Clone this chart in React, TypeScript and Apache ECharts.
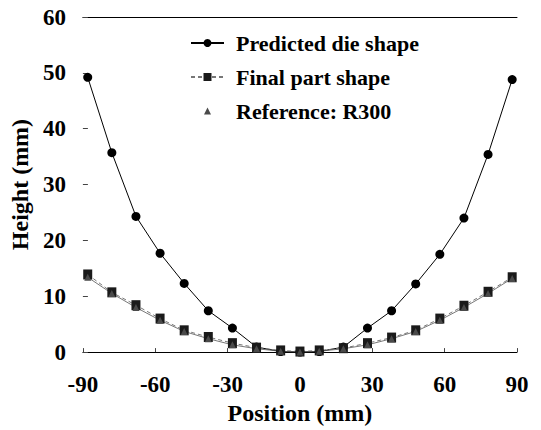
import React, { useEffect, useRef } from "react";
import * as echarts from "echarts";

const positions = [-88, -78, -68, -58, -48, -38, -28, -18, -8, 0, 8, 18, 28, 38, 48, 58, 68, 78, 88];
const predictedDie = [49.2, 35.7, 24.3, 17.7, 12.3, 7.4, 4.3, 0.9, 0.1, 0, 0.1, 0.9, 4.3, 7.4, 12.2, 17.5, 24.0, 35.4, 48.8];
const finalPart = [13.9, 10.7, 8.4, 6.0, 3.9, 2.7, 1.6, 0.8, 0.3, 0.1, 0.3, 0.7, 1.6, 2.6, 3.9, 6.0, 8.3, 10.8, 13.4];
const reference = [13.4, 10.5, 8.0, 5.7, 3.7, 2.4, 1.3, 0.6, 0.15, 0, 0.15, 0.6, 1.3, 2.4, 3.7, 5.7, 8.0, 10.5, 13.2];

const seriesNames = ["Predicted die shape", "Final part shape", "Reference: R300"];
const xAxisName = "Position (mm)";
const yAxisName = "Height (mm)";
const xMin = -90;
const xMax = 90;
const xStep = 30;
const yMin = 0;
const yMax = 60;
const yStep = 10;

const FONT = "'Liberation Serif', 'Times New Roman', serif";

const pairs = (ys: number[]) => positions.map((x, i) => [x, ys[i]]);

export default function App() {
  const ref = useRef<HTMLDivElement>(null);
  useEffect(() => {
    if (!ref.current) return;
    const chart = echarts.init(ref.current, undefined, { renderer: "svg" });
    const base = { fontFamily: FONT, fontWeight: "bold" as const, color: "#000" };
    chart.setOption({
      animation: false,
      backgroundColor: "#fff",
      grid: { left: 77, right: 24, top: 17, bottom: 75, containLabel: false },
      legend: {
        orient: "vertical",
        left: 185,
        top: 27,
        itemWidth: 33,
        itemHeight: 10,
        itemGap: 12,
        textStyle: { ...base, fontSize: 22, padding: [0, 0, 0, 7], lineHeight: 22 },
        data: [
          { name: seriesNames[0] },
          { name: seriesNames[1] },
          { name: seriesNames[2], icon: "path://M0,0M20,20M3,17L10,3L17,17Z" },
        ],
      },
      xAxis: [
        {
          type: "value",
          min: xMin,
          max: xMax,
          interval: xStep,
          name: xAxisName,
          nameLocation: "middle",
          nameGap: 46,
          nameTextStyle: { ...base, fontSize: 24 },
          axisLine: { show: true, onZero: false, lineStyle: { color: "#000", width: 1 } },
          axisTick: { show: true, inside: true, length: 4, lineStyle: { color: "#444" } },
          axisLabel: { ...base, fontSize: 23, margin: 21 },
          splitLine: { show: false },
        },
        {
          type: "value",
          position: "top",
          min: xMin,
          max: xMax,
          axisLine: { show: true, onZero: false, lineStyle: { color: "#000", width: 1 } },
          axisTick: { show: false },
          axisLabel: { show: false },
          splitLine: { show: false },
        },
      ],
      yAxis: {
        type: "value",
        position: "left",
        min: yMin,
        max: yMax,
        interval: yStep,
        name: yAxisName,
        nameLocation: "middle",
        nameGap: 46,
        nameTextStyle: { ...base, fontSize: 24 },
        axisLine: { show: false, onZero: false },
        axisTick: { show: true, inside: true, length: 5, lineStyle: { color: "#444" } },
        axisLabel: { ...base, fontSize: 23, margin: 17 },
        splitLine: { show: false },
      },
      series: [
        {
          name: seriesNames[0],
          type: "line",
          data: pairs(predictedDie),
          symbol: "circle",
          symbolSize: 9,
          itemStyle: { color: "#000" },
          lineStyle: { color: "#000", width: 1 },
        },
        {
          name: seriesNames[1],
          type: "line",
          data: pairs(finalPart),
          symbol: "rect",
          symbolSize: [9, 10],
          itemStyle: { color: "#1a1a1a" },
          lineStyle: { color: "#777", width: 1, type: [4, 3] },
        },
        {
          name: seriesNames[2],
          type: "line",
          data: pairs(reference),
          symbol: "triangle",
          symbolSize: 7,
          itemStyle: { color: "#4a4a4a" },
          lineStyle: { color: "#555", width: 0.8 },
        },
      ],
    });
    return () => chart.dispose();
  }, []);
  return <div ref={ref} style={{ width: 541, height: 430, position: "absolute", left: 0, top: 0 }} />;
}
